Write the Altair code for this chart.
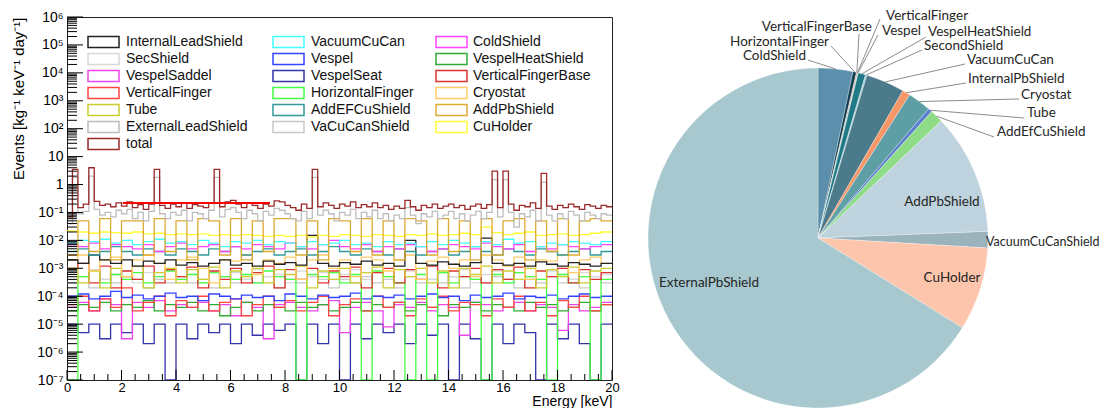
import math
import altair as alt
import pandas as pd

# ---------------- data: spectra (counts per bin, kg^-1 keV^-1 day^-1) ----------------
E_MAX = 20.0
total = [0.07, 3.5, 0.15, 0.2, 4.0, 0.25, 0.18, 0.2, 0.16, 0.22,
         0.17, 0.24, 0.15, 0.19, 0.13, 0.2, 3.5, 0.18, 0.14, 0.2,
         0.16, 0.21, 0.14, 0.19, 0.17, 0.15, 0.22, 3.5, 0.16, 0.24,
         0.27, 0.2, 0.15, 0.22, 0.18, 0.14, 0.2, 0.17, 0.26, 0.24,
         0.18, 0.15, 0.12, 0.2, 0.14, 3.5, 0.16, 0.22, 0.18, 0.14,
         0.2, 0.17, 0.24, 0.15, 0.19, 0.16, 0.22, 0.15, 0.18, 0.13,
         0.17, 0.14, 0.27, 0.16, 0.12, 0.18, 0.15, 0.2, 0.14, 0.17,
         0.2, 0.15, 0.18, 0.13, 0.17, 0.2, 0.14, 0.19, 3.0, 0.15,
         3.0, 0.2, 0.12, 0.18, 0.16, 0.22, 0.14, 2.5, 0.17, 0.13,
         0.18, 0.15, 0.2, 0.16, 0.13, 0.19, 0.17, 0.14, 0.18, 0.16]
external_lead_shield = [0.04, 1.8, 0.09, 0.11, 2.0, 0.13, 0.08, 0.1, 0.07, 0.12,
                        0.09, 0.13, 0.06, 0.1, 0.05, 0.11, 1.8, 0.09, 0.06, 0.1,
                        0.08, 0.12, 0.05, 0.1, 0.09, 0.06, 0.12, 1.8, 0.07, 0.13,
                        0.15, 0.1, 0.06, 0.12, 0.09, 0.05, 0.11, 0.08, 0.14, 0.12,
                        0.09, 0.06, 0.05, 0.11, 0.06, 1.8, 0.08, 0.12, 0.09, 0.05,
                        0.1, 0.08, 0.13, 0.06, 0.1, 0.07, 0.12, 0.06, 0.09, 0.05,
                        0.08, 0.06, 0.15, 0.08, 0.04, 0.09, 0.07, 0.11, 0.06, 0.08,
                        0.11, 0.06, 0.09, 0.05, 0.08, 0.11, 0.06, 0.1, 1.5, 0.07,
                        1.5, 0.1, 0.03, 0.09, 0.07, 0.12, 0.05, 1.2, 0.08, 0.05,
                        0.09, 0.06, 0.11, 0.08, 0.05, 0.1, 0.08, 0.06, 0.09, 0.08]
add_pb_shield = [0.003, 0.05, 0.004, 0.06, 0.002, 0.05, 0.05, 0.003, 0.06, 0.004,
                 0.05, 0.002, 0.06, 0.05, 0.003, 0.06, 0.002, 0.05, 0.004, 0.06,
                 0.06, 0.003, 0.05, 0.002, 0.06, 0.05, 0.004, 0.06, 0.003, 0.05,
                 0.002, 0.06, 0.05, 0.003, 0.06, 0.004, 0.05, 0.002, 0.06, 0.003,
                 0.05, 0.06, 0.002, 0.05, 0.004, 0.06, 0.003, 0.05, 0.06, 0.05]
cu_holder = [0.022, 0.02, 0.018, 0.02, 0.019, 0.018, 0.02, 0.017, 0.018, 0.016,
             0.017, 0.016, 0.017, 0.015, 0.016, 0.015, 0.016, 0.015, 0.014, 0.015,
             0.014, 0.015, 0.013, 0.015, 0.014, 0.016, 0.015, 0.014, 0.016, 0.015,
             0.014, 0.016, 0.015, 0.017, 0.015, 0.016, 0.018, 0.016, 0.03, 0.019,
             0.016, 0.018, 0.02, 0.015, 0.016, 0.017, 0.015, 0.016, 0.018, 0.02]
vacuum_cu_can = [0.008, 0.01, 0.009, 0.011, 0.008, 0.01, 0.007, 0.009, 0.011, 0.008,
                 0.009, 0.007, 0.01, 0.008, 0.006, 0.009, 0.008, 0.01, 0.007, 0.009,
                 0.008, 0.006, 0.009, 0.007, 0.008, 0.01, 0.007, 0.008, 0.006, 0.009,
                 0.007, 0.008, 0.006, 0.009, 0.007, 0.01, 0.008, 0.006, 0.009, 0.007,
                 0.011, 0.008, 0.009, 0.006, 0.008, 0.007, 0.009, 0.008, 0.007, 0.009]
cold_shield = [0.007, 0.006, 0.008, 0.005, 0.007, 0.006, 0.005, 0.007, 0.004, 0.006,
               0.008, 0.005, 0.006, 0.007, 0.004, 0.006, 0.005, 0.007, 0.006, 0.005,
               0.008, 0.006, 0.005, 0.007, 0.01, 0.006, 0.005, 0.007, 0.004, 0.006,
               0.005, 0.007, 0.006, 0.004, 0.005, 0.007, 0.006, 0.005, 0.008, 0.006,
               0.005, 0.007, 0.004, 0.006, 0.005, 0.007, 0.006, 0.005, 0.006, 0.007]
add_ef_cu_shield = [0.004, 0.005, 0.003, 0.004, 0.006, 0.004, 0.003, 0.005, 0.004, 0.003,
                    0.005, 0.004, 0.003, 0.005, 0.004, 0.006, 0.003, 0.004, 0.005, 0.003,
                    0.004, 0.005, 0.003, 0.004, 0.006, 0.004, 0.003, 0.005, 0.004, 0.003,
                    0.005, 0.004, 0.003, 0.004, 0.005, 0.003, 0.004, 0.006, 0.004, 0.003,
                    0.005, 0.004, 0.003, 0.005, 0.004, 0.003, 0.004, 0.005, 0.003, 0.004]
internal_lead_shield = [0.002, 0.0015, 0.003, 0.002, 0.0015, 0.002, 0.0012, 0.0018, 0.0015, 0.002,
                        0.0013, 0.0016, 0.0012, 0.0015, 0.002, 0.0013, 0.0015, 0.0012, 0.0018, 0.0014,
                        0.0016, 0.0013, 0.015, 0.0015, 0.0012, 0.0016, 0.0014, 0.0018, 0.0013, 0.0015,
                        0.0012, 0.01, 0.0015, 0.0013, 0.0017, 0.0014, 0.0012, 0.0016, 0.012, 0.0015,
                        0.0013, 0.0015, 0.0012, 0.0017, 0.0014, 0.0012, 0.0016, 0.0014, 0.0012, 0.0015]
cryostat = [0.002, 0.003, 0.0008, 0.002, 0.0025, 0.0005, 0.002, 0.003, 0.0015, 0.0004,
            0.002, 0.0025, 0.001, 0.0003, 0.002, 0.0018, 0.003, 0.0006, 0.002, 0.0015,
            0.0025, 0.0004, 0.002, 0.003, 0.001, 0.002, 0.0005, 0.0025, 0.002, 0.0008,
            0.002, 0.003, 0.0004, 0.0018, 0.0025, 0.001, 0.002, 0.0005, 0.003, 0.002,
            0.0012, 0.0025, 0.0004, 0.002, 0.0018, 0.003, 0.0007, 0.002, 0.0025, 0.0015]
tube = [0.001, 0.0003, 0.0008, 0.0002, 0.001, 0.0005, 0.0012, 0.0002, 0.0007, 0.001,
        0.0003, 0.0009, 0.0004, 0.0011, 0.0002, 0.0008, 0.0005, 0.001, 0.0003, 0.0009,
        0.0006, 0.0012, 0.0002, 0.0008, 0.0004, 0.001, 0.0003, 0.0007, 0.0011, 0.0002,
        0.0009, 0.0005, 0.001, 0.0003, 0.0008, 0.0002, 0.001, 0.0006, 0.0012, 0.0003,
        0.0008, 0.0004, 0.001, 0.0002, 0.0009, 0.0005, 0.0011, 0.0003, 0.0008, 0.001]
vertical_finger_base = [0.001, 0.0015, 0.0003, 0.0012, 0.0002, 0.0008, 0.0004, 0.0012, 0.0003, 0.0009,
                        0.0005, 0.0011, 0.0002, 0.0008, 0.0004, 0.001, 0.0003, 0.0007, 0.0012, 0.0002,
                        0.0009, 0.0004, 0.001, 0.0003, 0.0008, 0.0005, 0.0011, 0.0002, 0.0007, 0.001,
                        0.0003, 0.0009, 0.0004, 0.0012, 0.0002, 0.0008, 0.0005, 0.001, 0.0003, 0.0009,
                        0.0004, 0.0011, 0.0002, 0.0008, 0.0005, 0.001, 0.0003, 0.0009, 0.0004, 0.0007]
horizontal_finger = [0, 0.0005, 0.0008, 0.0003, 0.0006, 0.0004, 0.0007, 0.0003, 0.0005, 0.0008,
                     0.0004, 0.0006, 0.0003, 0.0007, 0.0005, 0.0004, 0.0006, 0.0003, 0.0008, 0.0005,
                     0.0004, 0, 0.0006, 0.0005, 0.0007, 0.0003, 0.0006, 0, 0.0008, 0.0005,
                     0.0003, 0, 0.0006, 0, 0.0007, 0.0003, 0.0005, 0.0004, 0, 0.0006,
                     0.0003, 0.0007, 0.0005, 0.0004, 0, 0.0006, 0.0003, 0.0005, 0, 0.0004]
sec_shield = [0.0008, 0.0005, 0.0009, 0.0004, 0.0006, 0.0008, 0.0003, 0.0007, 0.0005, 0.0009,
              0.0004, 0.0006, 0.0003, 0.0008, 0.0005, 0.0007, 0.0004, 0.0009, 0.0005, 0.0006,
              0.0003, 0.0008, 0.0005, 0.0007, 0.0004, 0.0006, 0.0009, 0.0004, 0.0007, 0.0005,
              0.0003, 0.0008, 0.0006, 0.0004, 0.0007, 0.0005, 0.0009, 0.0003, 0.0006, 0.0008,
              0.0004, 0.0007, 0.0005, 0.0003, 0.0008, 0.0006, 0.0004, 0.0007, 0.0005, 0.0006]
va_cu_can_shield = [0.0003, 0.0005, 0.0002, 0.0004, 0.0003, 0.0005, 0.0004, 0.0002, 0.0004, 0.0003,
                    0.0005, 0.0003, 0.0004, 0.0002, 0.0005, 0.0003, 0.0004, 0.0003, 0.0005, 0.0002,
                    0.0004, 0.0003, 0.0005, 0.0004, 0.0002, 0.0004, 0.0003, 0.0005, 0.0003, 0.0004,
                    0.0002, 0.0005, 0.0003, 0.0004, 0.0003, 0.0005, 0.0002, 0.0004, 0.0003, 0.0005,
                    0.0004, 0.0002, 0.0004, 0.0003, 0.0005, 0.0003, 0.0004, 0.0002, 0.0005, 0.0003]
vertical_finger = [5e-5, 1e-4, 3e-5, 8e-5, 4e-5, 2e-4, 3e-5, 6e-5, 1e-4, 2e-5,
                   7e-5, 4e-5, 1e-4, 3e-5, 6e-5, 8e-5, 2e-5, 5e-5, 1e-4, 4e-5,
                   7e-5, 3e-5, 6e-5, 1e-4, 2e-5, 5e-5, 8e-5, 3e-5, 1e-4, 4e-5,
                   6e-5, 2e-5, 8e-5, 4e-5, 1e-4, 3e-5, 6e-5, 5e-5, 2e-5, 8e-5,
                   4e-5, 1e-4, 3e-5, 6e-5, 2e-5, 7e-5, 4e-5, 1e-4, 3e-5, 5e-5]
vespel = [1e-4, 1.2e-4, 8e-5, 1e-4, 1.5e-4, 9e-5, 1.1e-4, 8e-5, 1e-4, 1.3e-4,
          9e-5, 1e-4, 7e-5, 1.2e-4, 1e-4, 8e-5, 1.1e-4, 9e-5, 1e-4, 7e-5,
          1.2e-4, 1e-4, 8e-5, 1.1e-4, 9e-5, 1e-4, 1.3e-4, 8e-5, 1e-4, 9e-5,
          1.1e-4, 8e-5, 1e-4, 1.2e-4, 9e-5, 1e-4, 7e-5, 1.1e-4, 9e-5, 1e-4,
          1.3e-4, 8e-5, 1e-4, 9e-5, 1.1e-4, 8e-5, 1e-4, 1.2e-4, 9e-5, 1e-4]
vespel_heat_shield = [3e-5, 5e-5, 4e-5, 6e-5, 3e-5, 5e-5, 4e-5, 7e-5, 3e-5, 5e-5,
                      4e-5, 6e-5, 3e-5, 5e-5, 2e-5, 4e-5, 6e-5, 3e-5, 5e-5, 4e-5,
                      3e-5, 6e-5, 4e-5, 5e-5, 3e-5, 4e-5, 6e-5, 3e-5, 5e-5, 4e-5,
                      6e-5, 3e-5, 5e-5, 4e-5, 2e-5, 5e-5, 4e-5, 6e-5, 3e-5, 5e-5,
                      4e-5, 3e-5, 6e-5, 4e-5, 5e-5, 3e-5, 4e-5, 6e-5, 3e-5, 5e-5]
vespel_saddel = [4e-5, 6e-5, 3e-5, 8e-5, 5e-5, 3e-6, 6e-5, 4e-5, 7e-5, 3e-5,
                 5e-5, 4e-5, 6e-5, 3e-5, 5e-5, 2e-5, 6e-5, 4e-5, 3e-6, 5e-5,
                 6e-5, 4e-5, 3e-5, 5e-5, 7e-5, 5e-6, 4e-5, 6e-5, 3e-5, 8e-6,
                 5e-5, 4e-5, 6e-5, 3e-5, 5e-5, 4e-5, 4e-6, 6e-5, 5e-5, 3e-5,
                 4e-5, 6e-5, 3e-5, 5e-5, 4e-5, 6e-6, 5e-5, 3e-5, 4e-5, 6e-5]
vespel_seat = [1e-5, 5e-6, 1e-5, 3e-6, 1e-5, 5e-6, 1e-5, 2e-6, 1e-5, 0,
               1e-5, 3e-6, 1e-5, 5e-6, 1e-5, 2e-6, 1e-5, 4e-6, 1e-5, 6e-6,
               1e-5, 0, 1e-5, 2e-6, 1e-5, 0, 1e-5, 3e-6, 1e-5, 5e-6,
               1e-5, 2e-6, 1e-5, 4e-6, 1e-5, 0, 1e-5, 3e-6, 0, 1e-5,
               2e-6, 1e-5, 5e-6, 0, 1e-5, 3e-6, 1e-5, 2e-6, 0, 1e-5]

# horizontal red reference line (keV from, keV to, level)
ref_line_e = [2.05, 7.45]
ref_line_level = [0.22]

# legend (ROOT order, three columns)
legend_col1 = ["InternalLeadShield", "SecShield", "VespelSaddel", "VerticalFinger", "Tube",
               "ExternalLeadShield", "total"]
legend_col2 = ["VacuumCuCan", "Vespel", "VespelSeat", "HorizontalFinger", "AddEFCuShield",
               "VaCuCanShield"]
legend_col3 = ["ColdShield", "VespelHeatShield", "VerticalFingerBase", "Cryostat", "AddPbShield",
               "CuHolder"]

series_values = {
    "InternalLeadShield": internal_lead_shield, "SecShield": sec_shield,
    "VespelSaddel": vespel_saddel, "VerticalFinger": vertical_finger, "Tube": tube,
    "ExternalLeadShield": external_lead_shield, "total": total,
    "VacuumCuCan": vacuum_cu_can, "Vespel": vespel, "VespelSeat": vespel_seat,
    "HorizontalFinger": horizontal_finger, "AddEFCuShield": add_ef_cu_shield,
    "VaCuCanShield": va_cu_can_shield, "ColdShield": cold_shield,
    "VespelHeatShield": vespel_heat_shield, "VerticalFingerBase": vertical_finger_base,
    "Cryostat": cryostat, "AddPbShield": add_pb_shield, "CuHolder": cu_holder,
}
series_colors = {
    "InternalLeadShield": "#222222", "SecShield": "#d9d9d9", "VespelSaddel": "#ee44ee",
    "VerticalFinger": "#ff4444", "Tube": "#cccc33", "ExternalLeadShield": "#bdbdbd",
    "total": "#9a2a2a", "VacuumCuCan": "#44ffff", "Vespel": "#3344ff", "VespelSeat": "#3333aa",
    "HorizontalFinger": "#44ff44", "AddEFCuShield": "#339999", "VaCuCanShield": "#c8c8c8",
    "ColdShield": "#ff44ff", "VespelHeatShield": "#33aa33", "VerticalFingerBase": "#dd3333",
    "Cryostat": "#ffcc66", "AddPbShield": "#ddaa33", "CuHolder": "#ffff33",
}
draw_order = ["VespelSeat", "VespelSaddel", "VespelHeatShield", "VerticalFinger", "Vespel",
              "VaCuCanShield", "SecShield", "HorizontalFinger", "VerticalFingerBase", "Tube",
              "Cryostat", "InternalLeadShield", "AddEFCuShield", "ColdShield", "VacuumCuCan",
              "CuHolder", "AddPbShield", "ExternalLeadShield", "total"]

x_tick_values = [0, 2, 4, 6, 8, 10, 12, 14, 16, 18, 20]
y_tick_exponents = list(range(-7, 7))
y_tick_labels = ["10⁻⁷", "10⁻⁶", "10⁻⁵", "10⁻⁴", "10⁻³", "10⁻²", "10⁻¹",
                 "1", "10", "10²", "10³", "10⁴", "10⁵", "10⁶"]

# ---------------- data: pie (share of total rate, %) ----------------
pie_names = ["ColdShield", "HorizontalFinger", "VerticalFingerBase", "VerticalFinger", "Vespel",
             "VespelHeatShield", "SecondShield", "VacuumCuCan", "InternalPbShield", "Cryostat",
             "Tube", "AddEfCuShield", "AddPbShield", "VacuumCuCanShield", "CuHolder",
             "ExternalPbShield"]
pie_values = [3.3, 0.33, 0.08, 0.05, 0.05, 0.7, 0.14, 3.67, 0.75, 2.2,
              0.39, 1.25, 11.47, 1.56, 7.92, 66.14]
pie_colors = ["#5b8fab", "#0f3d53", "#f08c5a", "#2d6b80", "#a9d3dc", "#1f7a86", "#9cc7d0",
              "#4b7a8b", "#f79767", "#5e9ea5", "#5b7fcf", "#8fdc88", "#bed3dd", "#9ab3bd",
              "#fdc5ac", "#a6c8ce"]

# ---------------- layout (pixels) ----------------
W, H = 545, 363
OX, OY = 67, 17                       # plot origin on the page
PIE_CX, PIE_CY, PIE_R = 818, 238, 170  # page coordinates
FONT = "Liberation Sans"
PIE_FONT = "Lato"
FLOOR = 1e-9

# label position (page), alignment, font size, leader end (page)
pie_label_layout = [
    ("VerticalFinger", 886, 16, "left", 13.5, 880, 19),
    ("VerticalFingerBase", 872, 27, "right", 13.5, 859, 34),
    ("Vespel", 882, 31, "left", 13.5, 878, 35),
    ("VespelHeatShield", 928, 32, "left", 13.5, 926, 37),
    ("SecondShield", 924, 46, "left", 13.5, 922, 50),
    ("HorizontalFinger", 829, 42, "right", 13.5, 831, 46),
    ("ColdShield", 806, 56, "right", 13.5, 808, 60),
    ("VacuumCuCan", 967, 60, "left", 13.5, 965, 64),
    ("InternalPbShield", 968, 79, "left", 13.5, 966, 83),
    ("Cryostat", 1021, 95, "left", 13.5, 1019, 99),
    ("Tube", 1027, 113, "left", 13.5, 1024, 118),
    ("AddEfCuShield", 997, 132, "left", 13.5, 994, 137),
    ("VacuumCuCanShield", 986, 242, "left", 12.5, None, None),
    ("AddPbShield", 942, 202, "center", 13.5, None, None),
    ("CuHolder", 952, 278, "center", 13.5, None, None),
    ("ExternalPbShield", 709, 283, "center", 13.5, None, None),
]
LEG_BOX_X = [21, 206, 369]
LEG_TEXT_X = [59, 244, 406]
LEG_Y0, LEG_DY, LEG_BW, LEG_BH = 25, 17, 31, 11

# ---------------- scales & axes ----------------
xs = alt.Scale(domain=[0, E_MAX], nice=False, zero=False)
ys = alt.Scale(type="log", domain=[1e-7, 1e6], nice=False, clamp=True)

label_expr = "''"
for k, lab in zip(reversed(y_tick_exponents), reversed(y_tick_labels)):
    label_expr = f"round(log(datum.value)/LN10) == {k} ? '{lab}' : " + label_expr

x_axis = alt.Axis(values=x_tick_values, format="d", ticks=False, domain=False, grid=False,
                  labelFont=FONT, labelFontSize=13, labelColor="#000", labelPadding=1,
                  labelFlush=False, labelOverlap=False,
                  title="Energy [keV]", titleFont=FONT, titleFontSize=14, titleFontWeight="normal",
                  titleColor="#000", titleAnchor="end", titleAlign="right",
                  titleBaseline="alphabetic", titleX=W, titleY=25)
y_axis = alt.Axis(values=[10.0 ** k for k in y_tick_exponents], labelExpr=label_expr,
                  ticks=False, domain=False, grid=False, labelFont=FONT, labelFontSize=14,
                  labelColor="#000", labelPadding=4, labelFlush=False, labelOverlap=False,
                  title="Events [kg⁻¹ keV⁻¹ day⁻¹]", titleFont=FONT, titleFontSize=15,
                  titleFontWeight="normal", titleColor="#000", titleAngle=270,
                  titleAlign="right", titleBaseline="alphabetic", titleX=-44, titleY=0)

layers = []

# histogram step lines
for name in draw_order:
    vals = series_values[name]
    n = len(vals)
    rows = [{"E": E_MAX * i / n, "v": max(v, FLOOR)} for i, v in enumerate(vals)]
    rows.append({"E": E_MAX, "v": max(vals[-1], FLOOR)})
    layers.append(
        alt.Chart(pd.DataFrame(rows)).mark_line(
            interpolate="step-after", color=series_colors[name], strokeWidth=1.3, clip=True
        ).encode(x=alt.X("E:Q", scale=xs, axis=x_axis), y=alt.Y("v:Q", scale=ys, axis=y_axis))
    )

# red reference line
ref_df = pd.DataFrame({"e1": [ref_line_e[0]], "e2": [ref_line_e[1]], "v": ref_line_level})
layers.append(alt.Chart(ref_df).mark_rule(color="#ff0000", strokeWidth=2).encode(
    x=alt.X("e1:Q", scale=xs, axis=x_axis), x2="e2:Q", y=alt.Y("v:Q", scale=ys, axis=y_axis)))

# inner ticks (ROOT style)
y_major = pd.DataFrame({"v": [10.0 ** k for k in y_tick_exponents]})
y_minor = pd.DataFrame({"v": [m * 10.0 ** k for k in y_tick_exponents[:-1] for m in range(2, 10)]})
x_major = pd.DataFrame({"e": x_tick_values})
x_minor = pd.DataFrame({"e": [i * 0.5 for i in range(41) if i % 4 != 0]})
for df, ln in ((y_major, 16), (y_minor, 10)):
    layers.append(alt.Chart(df).mark_rule(color="#000", strokeWidth=1).encode(
        y=alt.Y("v:Q", scale=ys, axis=y_axis), x=alt.value(0), x2=alt.value(ln)))
for df, ln in ((x_major, 10), (x_minor, 6)):
    layers.append(alt.Chart(df).mark_rule(color="#000", strokeWidth=1).encode(
        x=alt.X("e:Q", scale=xs, axis=x_axis), y=alt.value(H), y2=alt.value(H - ln)))

# legend
leg_rows = []
for c, col in enumerate([legend_col1, legend_col2, legend_col3]):
    for r, name in enumerate(col):
        yc = LEG_Y0 + r * LEG_DY
        leg_rows.append({"name": name, "color": series_colors[name],
                         "bx": LEG_BOX_X[c], "bx2": LEG_BOX_X[c] + LEG_BW,
                         "by": yc - LEG_BH / 2, "by2": yc + LEG_BH / 2,
                         "tx": LEG_TEXT_X[c], "ty": yc})
leg_df = pd.DataFrame(leg_rows)
layers.append(alt.Chart(leg_df).mark_rect(filled=False, strokeWidth=1.5).encode(
    x=alt.X("bx:Q", scale=None), x2="bx2:Q", y=alt.Y("by:Q", scale=None), y2="by2:Q",
    color=alt.Color("color:N", scale=None)))
layers.append(alt.Chart(leg_df).mark_text(align="left", baseline="middle", font=FONT,
                                          fontSize=14, color="#111").encode(
    x=alt.X("tx:Q", scale=None), y=alt.Y("ty:Q", scale=None), text="name:N"))

# pie
pie_df = pd.DataFrame({"name": pie_names, "pct": pie_values, "idx": list(range(len(pie_names)))})
layers.append(alt.Chart(pie_df).mark_arc(radius=PIE_R, stroke="#ffffff", strokeWidth=0.3).encode(
    theta=alt.Theta("pct:Q", stack=True),
    color=alt.Color("name:N", scale=alt.Scale(domain=pie_names, range=pie_colors), legend=None),
    order=alt.Order("idx:Q"),
    x=alt.value(PIE_CX - OX), y=alt.value(PIE_CY - OY)))

# pie leader lines and labels
tot = sum(pie_values)
mid_angle = {}
acc = 0.0
for nm, v in zip(pie_names, pie_values):
    mid_angle[nm] = 2 * math.pi * (acc + v / 2) / tot
    acc += v
lead_rows = []
lab_rows = {}
for nm, tx, ty, al, fs, lx, ly in pie_label_layout:
    lab_rows.setdefault((al, fs), []).append({"name": nm, "tx": tx - OX, "ty": ty - OY})
    if lx is not None:
        a = mid_angle[nm]
        ex = PIE_CX + PIE_R * math.sin(a)
        ey = PIE_CY - PIE_R * math.cos(a)
        lead_rows.append({"x1": ex - OX, "y1": ey - OY, "x2": lx - OX, "y2": ly - OY})
lead_df = pd.DataFrame(lead_rows)
layers.append(alt.Chart(lead_df).mark_rule(color="#8c8c8c", strokeWidth=1).encode(
    x=alt.X("x1:Q", scale=None), y=alt.Y("y1:Q", scale=None), x2="x2:Q", y2="y2:Q"))
for (al, fs), rows in lab_rows.items():
    layers.append(alt.Chart(pd.DataFrame(rows)).mark_text(
        align=al, baseline="middle", font=PIE_FONT, fontSize=fs, color="#262626").encode(
        x=alt.X("tx:Q", scale=None), y=alt.Y("ty:Q", scale=None), text="name:N"))

chart = alt.layer(*layers).properties(
    width=W, height=H,
    padding={"left": OX - 8, "top": OY - 8, "right": 1101 - (OX - 8) - W, "bottom": 400 - (OY - 8) - H},
    autosize=alt.AutoSizeParams(type="none"),
).configure_view(stroke="#222222", strokeWidth=1)

chart.save("out.html", embed_options={"renderer": "svg", "actions": False})
